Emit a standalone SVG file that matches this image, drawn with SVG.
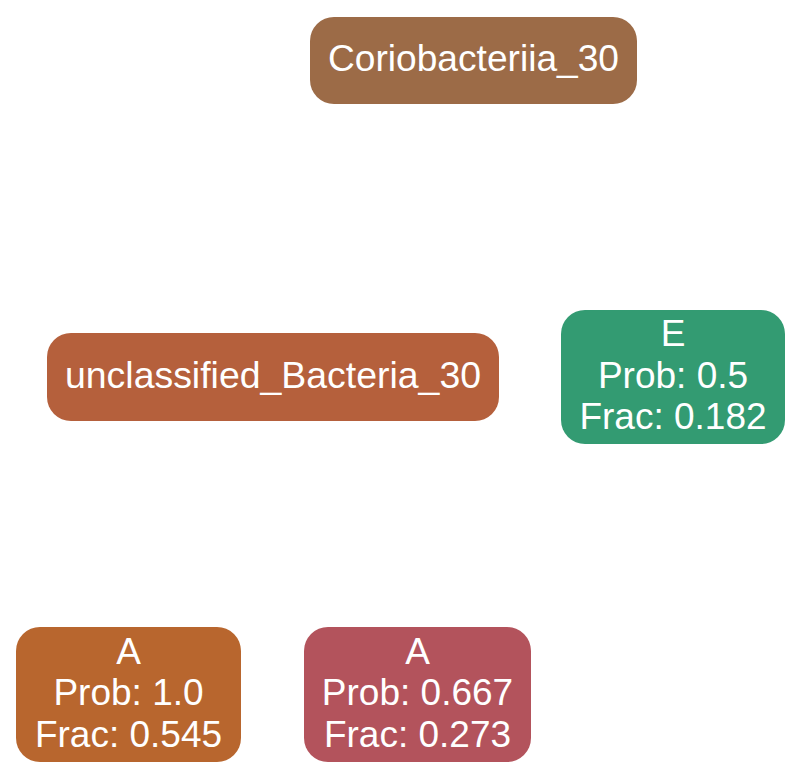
<svg xmlns="http://www.w3.org/2000/svg" width="803" height="779" viewBox="0 0 803 779">
<style>
text{font-family:"Liberation Sans",Arial,sans-serif;font-size:37px;fill:#ffffff;text-anchor:middle}
</style>
<rect width="803" height="779" fill="#ffffff"/>
<g id="edges"></g>
<g id="n_corio">
<rect x="310" y="17" width="327" height="87" rx="24" fill="#9c6b47"/>
<text x="473.5" y="71" textLength="291" lengthAdjust="spacingAndGlyphs">Coriobacteriia_30</text>
</g>
<g id="n_uncl">
<rect x="47" y="333" width="452" height="88" rx="24" fill="#b5603c"/>
<text x="273" y="388" textLength="416" lengthAdjust="spacingAndGlyphs">unclassified_Bacteria_30</text>
</g>
<g id="n_E">
<rect x="561" y="310" width="224" height="134" rx="24" fill="#339b72"/>
<text x="673" y="346">E</text>
<text x="673" y="388">Prob: 0.5</text>
<text x="673" y="429">Frac: 0.182</text>
</g>
<g id="n_A1">
<rect x="16" y="627" width="225" height="135" rx="24" fill="#b8662e"/>
<text x="128.5" y="664">A</text>
<text x="128.5" y="705">Prob: 1.0</text>
<text x="128.5" y="747">Frac: 0.545</text>
</g>
<g id="n_A2">
<rect x="304" y="627" width="227" height="135" rx="24" fill="#b3535c"/>
<text x="417.5" y="664">A</text>
<text x="417.5" y="705">Prob: 0.667</text>
<text x="417.5" y="747">Frac: 0.273</text>
</g>
</svg>
